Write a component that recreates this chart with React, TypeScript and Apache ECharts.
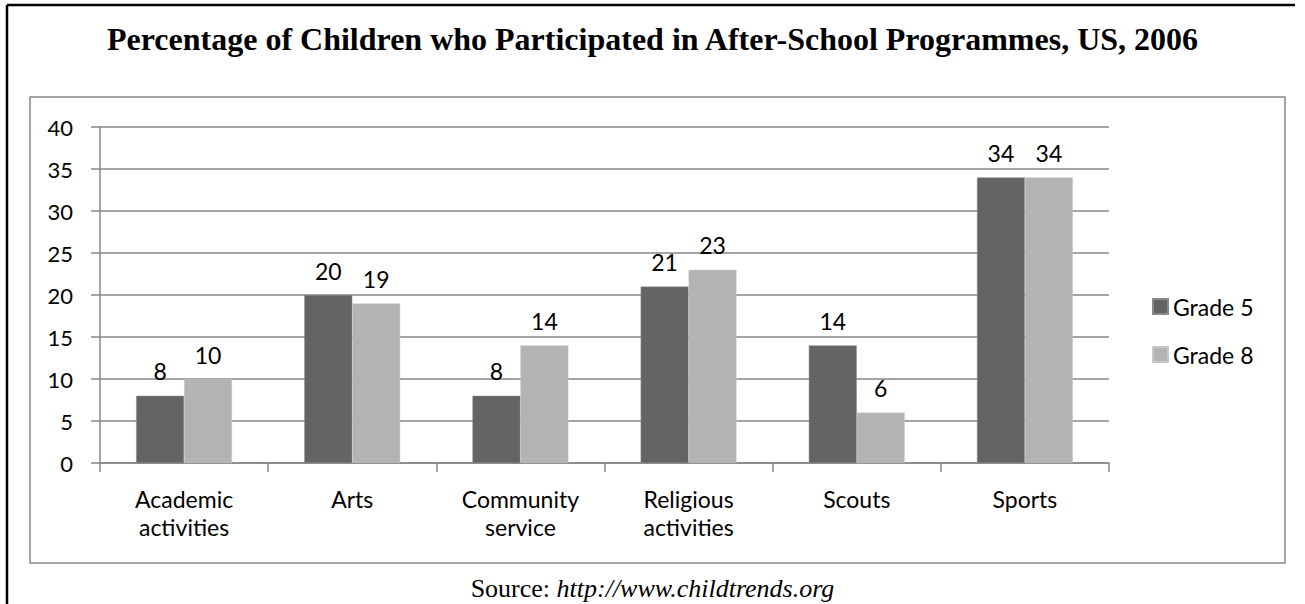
import React, { useEffect, useRef } from "react";
import * as echarts from "echarts";

const categories = ["Academic\nactivities", "Arts", "Community\nservice", "Religious\nactivities", "Scouts", "Sports"];
const grade5 = [8, 20, 8, 21, 14, 34];
const grade8 = [10, 19, 14, 23, 6, 34];
const seriesNames = ["Grade 5", "Grade 8"];
const titleText = "Percentage of Children who Participated in After-School Programmes, US, 2006";

export default function App() {
  const ref = useRef<HTMLDivElement>(null);
  useEffect(() => {
    if (!ref.current) return;
    const chart = echarts.init(ref.current, null, { renderer: "svg" });
    const font = "Lato, 'Open Sans', sans-serif";
    const serif = "'Liberation Serif', 'Times New Roman', serif";
    const labelStyle = {
      show: true,
      position: "top" as const,
      distance: 13,
      fontFamily: font,
      fontSize: 23,
      color: "#000",
    };
    chart.setOption({
      animation: false,
      backgroundColor: "#fff",
      title: {
        text: titleText,
        left: "center",
        top: 18,
        textStyle: {
          fontFamily: serif,
          fontWeight: "bold",
          fontSize: 32,
          color: "#000",
        },
      },
      grid: { left: 100, right: 196, top: 127, bottom: 141, containLabel: false },
      legend: {
        orient: "vertical",
        left: 1147,
        top: 290,
        itemWidth: 15,
        itemHeight: 15,
        itemGap: 25,
        icon: "rect",
        textStyle: { fontFamily: font, fontSize: 23, color: "#000" },
        data: seriesNames,
      },
      xAxis: {
        type: "category",
        data: categories,
        axisLine: { show: true, lineStyle: { color: "#868686", width: 1.5 } },
        axisTick: { show: true, length: 9, inside: false, lineStyle: { color: "#868686", width: 1.5 } },
        axisLabel: {
          interval: 0,
          margin: 22,
          fontFamily: font,
          fontSize: 23,
          lineHeight: 28,
          color: "#000",
        },
      },
      yAxis: {
        type: "value",
        min: 0,
        max: 40,
        interval: 5,
        axisLine: { show: true, lineStyle: { color: "#868686", width: 1.5 } },
        axisTick: { show: true, length: 9, lineStyle: { color: "#868686", width: 1.5 } },
        splitLine: { show: true, lineStyle: { color: "#868686", width: 1.5 } },
        axisLabel: { margin: 27, fontFamily: font, fontSize: 22, color: "#000" },
      },
      series: [
        {
          name: seriesNames[0],
          type: "bar",
          data: grade5,
          barGap: "0%",
          barCategoryGap: "43%",
          itemStyle: { color: "#646464", borderColor: "#8a8a8a", borderWidth: 0.5 },
          label: labelStyle,
        },
        {
          name: seriesNames[1],
          type: "bar",
          data: grade8,
          barGap: "0%",
          barCategoryGap: "43%",
          itemStyle: { color: "#b3b3b3", borderColor: "#c8c8c8", borderWidth: 0.5 },
          label: labelStyle,
        },
      ],
      graphic: [
        {
          type: "rect",
          shape: { x: 30, y: 97, width: 1255, height: 466 },
          style: { fill: "none", stroke: "#888888", lineWidth: 1.5 },
          silent: true,
        },
        {
          type: "line",
          shape: { x1: 7, y1: 5, x2: 1295, y2: 5 },
          style: { stroke: "#000", lineWidth: 2.5 },
          silent: true,
        },
        {
          type: "line",
          shape: { x1: 7, y1: 5, x2: 7, y2: 604 },
          style: { stroke: "#000", lineWidth: 2.5 },
          silent: true,
        },
        {
          type: "text",
          left: "center",
          top: 575,
          style: {
            text: "{a|Source: }{b|http://www.childtrends.org}",
            rich: {
              a: { fontFamily: serif, fontSize: 26, fill: "#000" },
              b: { fontFamily: serif, fontSize: 26, fontStyle: "italic", fill: "#000" },
            },
          },
          silent: true,
        },
      ],
    });
    return () => chart.dispose();
  }, []);
  return (
    <div
      ref={ref}
      style={{ position: "absolute", left: 0, top: 0, width: 1305, height: 604, background: "#fff" }}
    />
  );
}
